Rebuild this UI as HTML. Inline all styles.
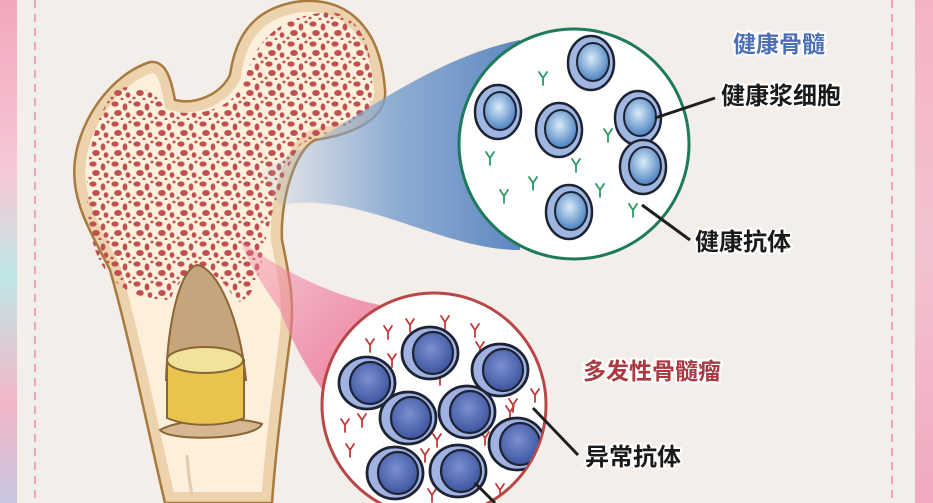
<!DOCTYPE html>
<html><head><meta charset="utf-8"><style>
html,body{margin:0;padding:0;width:933px;height:503px;overflow:hidden;background:#f3eeea}
svg{display:block}
text{font-family:"Liberation Sans","Noto Sans CJK SC",sans-serif;font-weight:bold}
</style></head><body>
<svg width="933" height="503" viewBox="0 0 933 503" xmlns="http://www.w3.org/2000/svg">
<defs>
<linearGradient id="lb" x1="0" y1="0" x2="0" y2="1">
<stop offset="0" stop-color="#f2a7bd"/><stop offset="0.35" stop-color="#f6c9d6"/><stop offset="0.55" stop-color="#bfe6e6"/><stop offset="0.8" stop-color="#f2b7c8"/><stop offset="1" stop-color="#c9c6e0"/></linearGradient>
<linearGradient id="rb" x1="0" y1="0" x2="0" y2="1">
<stop offset="0" stop-color="#f4b3c5"/><stop offset="0.5" stop-color="#f3c2d0"/><stop offset="1" stop-color="#f1a9bf"/></linearGradient>
<linearGradient id="blue" x1="0" y1="0" x2="1" y2="0">
<stop offset="0" stop-color="#8fb0d6" stop-opacity="0.1"/><stop offset="0.5" stop-color="#7fa3cf" stop-opacity="0.85"/><stop offset="1" stop-color="#5d87c0"/></linearGradient>
<linearGradient id="pink" x1="0" y1="0" x2="1" y2="1">
<stop offset="0" stop-color="#f07a9c" stop-opacity="0.3"/><stop offset="0.5" stop-color="#ef7f9f" stop-opacity="0.9"/><stop offset="1" stop-color="#ec7092"/></linearGradient>
<pattern id="dots" width="22" height="20" patternUnits="userSpaceOnUse">
<ellipse cx="5" cy="4" rx="3.6" ry="2.6" fill="#c0504f"/><ellipse cx="15" cy="7" rx="2.4" ry="3.6" fill="#c0504f"/><ellipse cx="20" cy="2" rx="1.6" ry="1.4" fill="#c0504f"/><ellipse cx="8" cy="13" rx="3.8" ry="3" fill="#c0504f"/><ellipse cx="18" cy="15" rx="2.4" ry="2.8" fill="#c0504f"/><ellipse cx="2" cy="18" rx="1.6" ry="1.4" fill="#c0504f"/><ellipse cx="12" cy="19" rx="1.5" ry="1.2" fill="#c0504f"/></pattern>
<radialGradient id="hc" cx="0.45" cy="0.4" r="0.6"><stop offset="0" stop-color="#d9ecf8"/><stop offset="1" stop-color="#4a80c0"/></radialGradient>
<radialGradient id="mc" cx="0.45" cy="0.4" r="0.6"><stop offset="0" stop-color="#7c8fd0"/><stop offset="1" stop-color="#3d55a0"/></radialGradient>
<g id="hcell"><ellipse rx="23" ry="27" fill="#9fb6e0" stroke="#1e2333" stroke-width="2.5"/><ellipse cx="2" cy="-1" rx="16" ry="19" fill="url(#hc)" stroke="#1e2333" stroke-width="2"/></g>
<g id="mcell"><ellipse rx="28" ry="26" fill="#9fb2e2" stroke="#1e2333" stroke-width="2.8"/><ellipse cx="3" cy="0" rx="20" ry="21" fill="url(#mc)" stroke="#1e2333" stroke-width="2.2"/></g>
<path id="ya" d="M0,7 V0 M0,0 L-4,-6 M0,0 L4,-6" fill="none" stroke-width="1.8" stroke-linecap="round"/>
<clipPath id="rc"><circle cx="434" cy="405" r="111"/></clipPath>
<path id="bone" d="M165,503 C150,440 130,340 110,270 C90,230 70,200 75,160 C80,120 110,75 150,62 C168,60 172,85 175,100 C195,105 220,95 230,75 C235,40 250,10 295,2 C340,-5 380,20 385,90 C388,120 350,135 315,140 C295,150 280,200 282,240 C290,280 295,300 290,340 C282,400 275,460 272,503 Z"/>
<clipPath id="bc"><use href="#bone"/></clipPath>
</defs>
<rect width="933" height="503" fill="#f3eeea"/>
<rect x="0" y="0" width="17" height="503" fill="url(#lb)"/>
<rect x="915" y="0" width="18" height="503" fill="url(#rb)"/>
<line x1="35" y1="0" x2="35" y2="503" stroke="#ec8aa8" stroke-width="1.5" stroke-dasharray="8,6"/>
<line x1="892" y1="0" x2="892" y2="503" stroke="#ec8aa8" stroke-width="1.5" stroke-dasharray="8,6"/>
<!-- bone -->
<use href="#bone" fill="#fcefdc"/>
<g clip-path="url(#bc)"><use href="#bone" fill="none" stroke="#edd3ad" stroke-width="22"/></g>
<path d="M95,250 C80,200 85,130 115,90 C140,80 160,95 165,110 C200,118 232,110 245,80 C255,40 280,15 330,12 C365,15 378,60 370,110 C350,128 320,133 300,145 C285,170 270,210 262,260 C255,300 240,305 235,300 C215,262 185,262 170,300 C140,300 110,290 95,250 Z" fill="url(#dots)"/>
<use href="#bone" fill="none" stroke="#a77a3f" stroke-width="2.5"/>
<path d="M166,380 C168,320 180,270 197,265 C218,268 240,320 246,380 Z" fill="#c7a57c" stroke="#8a6536" stroke-width="2"/>
<path d="M160,430 C180,418 240,416 262,424 C255,440 170,442 160,430 Z" fill="#d6b792" stroke="#8a6536" stroke-width="2"/>
<path d="M167,360 V418 C190,428 225,426 244,418 V360 Z" fill="#e8c34e" stroke="#8a6536" stroke-width="2"/>
<ellipse cx="205" cy="360" rx="38" ry="13" fill="#f0e39a" stroke="#8a6536" stroke-width="2"/>
<path d="M187,455 C188,470 190,485 192,495" stroke="#e6cba8" stroke-width="3" fill="none"/>
<!-- beams -->
<path d="M262,170 C330,140 420,60 520,40 L520,250 C440,250 360,190 280,205 C272,195 266,182 262,170 Z" fill="url(#blue)"/>
<path d="M240,240 C280,270 330,295 380,305 L480,490 C420,500 320,420 280,310 C262,285 248,262 240,240 Z" fill="url(#pink)"/>
<!-- healthy circle -->
<circle cx="574" cy="144" r="115" fill="#fff" stroke="#1f7a5a" stroke-width="3"/>
<g stroke="#2a9a62"><use href="#ya" x="543" y="78"/><use href="#ya" x="490" y="158"/><use href="#ya" x="608" y="135"/><use href="#ya" x="576" y="165"/><use href="#ya" x="533" y="183"/><use href="#ya" x="504" y="196"/><use href="#ya" x="600" y="190"/><use href="#ya" x="633" y="210"/></g>
<use href="#hcell" x="591" y="63"/><use href="#hcell" x="498" y="112"/><use href="#hcell" x="559" y="130"/><use href="#hcell" x="638" y="118"/><use href="#hcell" x="643" y="167"/><use href="#hcell" x="569" y="212"/>
<!-- myeloma circle -->
<circle cx="434" cy="405" r="112" fill="#fff" stroke="#b84848" stroke-width="3"/>
<g clip-path="url(#rc)" stroke="#c23a3a">
<use href="#ya" x="370" y="345"/><use href="#ya" x="388" y="332"/><use href="#ya" x="410" y="325"/><use href="#ya" x="445" y="322"/><use href="#ya" x="475" y="330"/><use href="#ya" x="392" y="360"/><use href="#ya" x="480" y="348"/><use href="#ya" x="440" y="378"/><use href="#ya" x="535" y="395"/><use href="#ya" x="513" y="405"/><use href="#ya" x="345" y="425"/><use href="#ya" x="362" y="420"/><use href="#ya" x="350" y="450"/><use href="#ya" x="437" y="440"/><use href="#ya" x="485" y="438"/><use href="#ya" x="425" y="455"/><use href="#ya" x="500" y="490"/><use href="#ya" x="432" y="495"/><use href="#ya" x="510" y="412"/></g>
<g clip-path="url(#rc)">
<use href="#mcell" x="430" y="353"/><use href="#mcell" x="500" y="370"/><use href="#mcell" x="367" y="383"/><use href="#mcell" x="408" y="418"/><use href="#mcell" x="467" y="412"/><use href="#mcell" x="517" y="444"/><use href="#mcell" x="395" y="473"/><use href="#mcell" x="458" y="471"/></g>
<!-- leaders -->
<line x1="655" y1="118" x2="715" y2="98" stroke="#1e1e1e" stroke-width="3"/>
<line x1="642" y1="205" x2="690" y2="240" stroke="#1e1e1e" stroke-width="3"/>
<line x1="533" y1="408" x2="578" y2="455" stroke="#1e1e1e" stroke-width="3"/>
<line x1="475" y1="483" x2="495" y2="503" stroke="#1e1e1e" stroke-width="3"/>
<!-- labels -->
<g style="paint-order:stroke" stroke="#fff" stroke-width="4">
<text x="733" y="52" font-size="23" fill="#4d6fb5">健康骨髓</text>
<text x="721" y="104" font-size="24" fill="#1a1a1a">健康浆细胞</text>
<text x="695" y="250" font-size="24" fill="#1a1a1a">健康抗体</text>
<text x="583" y="379" font-size="23" fill="#a93a42">多发性骨髓瘤</text>
<text x="585" y="465" font-size="24" fill="#1a1a1a">异常抗体</text>
</g>
</svg>
</body></html>
